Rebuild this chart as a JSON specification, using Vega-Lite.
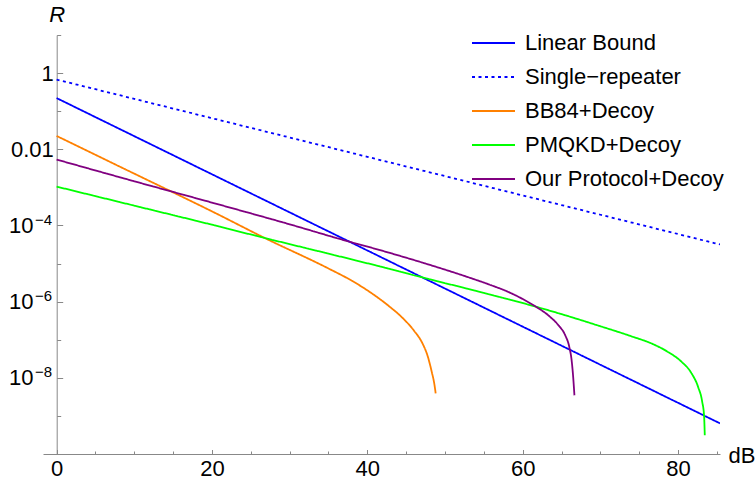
{
  "$schema": "https://vega.github.io/schema/vega-lite/v6.json",
  "width": 677,
  "height": 419,
  "autosize": "none",
  "padding": {"left": 43, "top": 35, "right": 35, "bottom": 25},
  "background": "white",
  "config": {
    "font": "Liberation Sans",
    "view": {"stroke": null},
    "axis": {"grid": false, "domainColor": "#888888", "tickColor": "#888888", "labelColor": "#000000", "labelFont": "Liberation Sans", "labelFontSize": 22, "titleFont": "Liberation Sans", "titleFontSize": 22, "titleFontWeight": "normal", "titleColor": "#000000"}
  },
  "datasets": {
    "curves": [
      {"series": "Linear Bound", "dB": 0, "R": 0.2208},
      {"series": "Linear Bound", "dB": 10, "R": 0.02208},
      {"series": "Linear Bound", "dB": 20, "R": 0.002208},
      {"series": "Linear Bound", "dB": 30, "R": 0.0002208},
      {"series": "Linear Bound", "dB": 40, "R": 2.208e-5},
      {"series": "Linear Bound", "dB": 50, "R": 2.208e-6},
      {"series": "Linear Bound", "dB": 60, "R": 2.208e-7},
      {"series": "Linear Bound", "dB": 70, "R": 2.208e-8},
      {"series": "Linear Bound", "dB": 80, "R": 2.208e-9},
      {"series": "Linear Bound", "dB": 85.4, "R": 6.37e-10},
      {"series": "Single−repeater", "dB": 0, "R": 0.676},
      {"series": "Single−repeater", "dB": 10, "R": 0.2104},
      {"series": "Single−repeater", "dB": 20, "R": 0.06546},
      {"series": "Single−repeater", "dB": 30, "R": 0.02037},
      {"series": "Single−repeater", "dB": 40, "R": 0.006339},
      {"series": "Single−repeater", "dB": 50, "R": 0.001972},
      {"series": "Single−repeater", "dB": 60, "R": 0.0006138},
      {"series": "Single−repeater", "dB": 70, "R": 0.000191},
      {"series": "Single−repeater", "dB": 80, "R": 5.943e-5},
      {"series": "Single−repeater", "dB": 85.4, "R": 3.162e-5},
      {"series": "BB84+Decoy", "dB": 0, "R": 0.02239},
      {"series": "BB84+Decoy", "dB": 10, "R": 0.002291},
      {"series": "BB84+Decoy", "dB": 20, "R": 0.0002344},
      {"series": "BB84+Decoy", "dB": 27, "R": 4.467e-5},
      {"series": "BB84+Decoy", "dB": 35, "R": 7.413e-6},
      {"series": "BB84+Decoy", "dB": 38, "R": 3.548e-6},
      {"series": "BB84+Decoy", "dB": 40.2, "R": 1.862e-6},
      {"series": "BB84+Decoy", "dB": 42.8, "R": 7.586e-7},
      {"series": "BB84+Decoy", "dB": 44.5, "R": 3.802e-7},
      {"series": "BB84+Decoy", "dB": 46, "R": 1.738e-7},
      {"series": "BB84+Decoy", "dB": 47.06, "R": 8.318e-8},
      {"series": "BB84+Decoy", "dB": 47.8, "R": 3.548e-8},
      {"series": "BB84+Decoy", "dB": 48.3, "R": 1.413e-8},
      {"series": "BB84+Decoy", "dB": 48.6, "R": 7.413e-9},
      {"series": "BB84+Decoy", "dB": 48.8, "R": 3.89e-9},
      {"series": "PMQKD+Decoy", "dB": 0, "R": 0.001047},
      {"series": "PMQKD+Decoy", "dB": 10, "R": 0.0003311},
      {"series": "PMQKD+Decoy", "dB": 20, "R": 0.0001047},
      {"series": "PMQKD+Decoy", "dB": 27.2, "R": 4.467e-5},
      {"series": "PMQKD+Decoy", "dB": 35, "R": 1.82e-5},
      {"series": "PMQKD+Decoy", "dB": 41.5, "R": 8.511e-6},
      {"series": "PMQKD+Decoy", "dB": 46.6, "R": 4.571e-6},
      {"series": "PMQKD+Decoy", "dB": 55, "R": 1.698e-6},
      {"series": "PMQKD+Decoy", "dB": 62, "R": 7.079e-7},
      {"series": "PMQKD+Decoy", "dB": 66, "R": 4.074e-7},
      {"series": "PMQKD+Decoy", "dB": 69.75, "R": 2.344e-7},
      {"series": "PMQKD+Decoy", "dB": 74, "R": 1.23e-7},
      {"series": "PMQKD+Decoy", "dB": 76.6, "R": 7.943e-8},
      {"series": "PMQKD+Decoy", "dB": 78.7, "R": 4.786e-8},
      {"series": "PMQKD+Decoy", "dB": 80.4, "R": 2.692e-8},
      {"series": "PMQKD+Decoy", "dB": 81.7, "R": 1.349e-8},
      {"series": "PMQKD+Decoy", "dB": 82.6, "R": 5.623e-9},
      {"series": "PMQKD+Decoy", "dB": 83.1, "R": 2.399e-9},
      {"series": "PMQKD+Decoy", "dB": 83.35, "R": 1.0e-9},
      {"series": "PMQKD+Decoy", "dB": 83.44, "R": 3.09e-10},
      {"series": "Our Protocol+Decoy", "dB": 0, "R": 0.00537},
      {"series": "Our Protocol+Decoy", "dB": 10, "R": 0.001445},
      {"series": "Our Protocol+Decoy", "dB": 20, "R": 0.0003981},
      {"series": "Our Protocol+Decoy", "dB": 30, "R": 0.0001072},
      {"series": "Our Protocol+Decoy", "dB": 37.4, "R": 3.89e-5},
      {"series": "Our Protocol+Decoy", "dB": 41.5, "R": 2.291e-5},
      {"series": "Our Protocol+Decoy", "dB": 47, "R": 1.072e-5},
      {"series": "Our Protocol+Decoy", "dB": 53, "R": 4.365e-6},
      {"series": "Our Protocol+Decoy", "dB": 55.63, "R": 2.844e-6},
      {"series": "Our Protocol+Decoy", "dB": 58.2, "R": 1.778e-6},
      {"series": "Our Protocol+Decoy", "dB": 59.9, "R": 1.202e-6},
      {"series": "Our Protocol+Decoy", "dB": 61.6, "R": 7.586e-7},
      {"series": "Our Protocol+Decoy", "dB": 63.3, "R": 4.365e-7},
      {"series": "Our Protocol+Decoy", "dB": 64.6, "R": 2.399e-7},
      {"series": "Our Protocol+Decoy", "dB": 65.47, "R": 1.318e-7},
      {"series": "Our Protocol+Decoy", "dB": 66.0, "R": 6.457e-8},
      {"series": "Our Protocol+Decoy", "dB": 66.3, "R": 2.884e-8},
      {"series": "Our Protocol+Decoy", "dB": 66.5, "R": 1.047e-8},
      {"series": "Our Protocol+Decoy", "dB": 66.66, "R": 3.467e-9}
    ]
  },
  "layer": [
    {
      "data": {"name": "curves"},
      "mark": {"type": "line", "strokeWidth": 1.8, "clip": true, "interpolate": "monotone"},
      "encoding": {
        "x": {
          "field": "dB", "type": "quantitative",
          "scale": {"domain": [-1.75, 85.4], "nice": false, "zero": false},
          "axis": {"orient": "bottom", "values": [0, 20, 40, 60, 80], "tickSize": -4.5, "labels": false, "title": "dB", "titleX": 685, "titleY": 1, "titleAlign": "left", "titleBaseline": "middle", "titleAngle": 0}
        },
        "y": {
          "field": "R", "type": "quantitative",
          "scale": {"type": "log", "domain": [1e-10, 10], "nice": false},
          "axis": {"orient": "left", "offset": -13.7, "values": [1, 0.01, 0.0001, 0.000001, 0.00000001], "tickSize": -6, "labels": false,
            "title": "R", "titleFontStyle": "italic", "titleAngle": 0, "titleX": 0, "titleY": -21, "titleAlign": "center", "titleBaseline": "middle"}
        },
        "color": {
          "field": "series", "type": "nominal",
          "scale": {"domain": ["Linear Bound", "Single−repeater", "BB84+Decoy", "PMQKD+Decoy", "Our Protocol+Decoy"], "range": ["#0000FF", "#0000FF", "#FF8000", "#00FF00", "#800080"]},
          "legend": {"title": null, "orient": "none", "legendX": 428, "legendY": -14.5, "padding": 0, "symbolType": "stroke", "symbolSize": 1849, "symbolStrokeWidth": 2, "labelFontSize": 22, "labelFont": "Liberation Sans", "labelColor": "#000000", "labelOffset": 9, "labelLimit": 400, "rowPadding": -11}
        },
        "strokeDash": {
          "field": "series", "type": "nominal",
          "scale": {"domain": ["Linear Bound", "Single−repeater", "BB84+Decoy", "PMQKD+Decoy", "Our Protocol+Decoy"], "range": [[1, 0], [3, 3.5], [1, 0], [1, 0], [1, 0]]},
          "legend": {"title": null, "orient": "none", "legendX": 428, "legendY": -14.5, "padding": 0, "symbolType": "stroke", "symbolSize": 1849, "symbolStrokeWidth": 2, "labelFontSize": 22, "labelFont": "Liberation Sans", "labelColor": "#000000", "labelOffset": 9, "labelLimit": 400, "rowPadding": -11}
        }
      }
    },
    {
      "data": {"name": "curves"},
      "mark": {"type": "point", "opacity": 0},
      "encoding": {
        "x": {
          "field": "dB", "type": "quantitative",
          "axis": {"orient": "bottom", "values": [5, 10, 15, 25, 30, 35, 45, 50, 55, 65, 70, 75, 85], "tickSize": -3, "labels": false, "domain": false, "title": null}
        },
        "y": {
          "field": "R", "type": "quantitative",
          "axis": {"orient": "left", "offset": -13.7, "values": [10, 0.1, 0.001, 0.00001, 0.0000001, 0.000000001], "tickSize": -4, "labels": false, "domain": false, "title": null}
        }
      }
    },
    {
      "data": {"name": "curves"},
      "mark": {"type": "point", "opacity": 0},
      "encoding": {
        "x": {
          "field": "dB", "type": "quantitative",
          "axis": {"orient": "bottom", "values": [0, 20, 40, 60, 80], "format": "d", "ticks": false, "domain": false, "labelPadding": 4, "labelBaseline": "top", "title": null}
        },
        "y": {
          "field": "R", "type": "quantitative",
          "axis": {"orient": "left", "offset": -13.7, "values": [1, 0.01], "ticks": false, "domain": false, "labelPadding": 3.4, "labelBaseline": "middle",
            "labelExpr": "datum.value > 0.5 ? '1' : '0.01'", "title": null}
        }
      }
    },
    {
      "data": {"name": "curves"},
      "mark": {"type": "point", "opacity": 0},
      "encoding": {
        "x": {"field": "dB", "type": "quantitative", "axis": null},
        "y": {
          "field": "R", "type": "quantitative",
          "axis": {"orient": "left", "offset": -13.7, "values": [0.0001, 0.000001, 0.00000001], "ticks": false, "domain": false, "labelPadding": 23.7, "labelBaseline": "middle",
            "labelExpr": "'10'", "title": null}
        }
      }
    },
    {
      "data": {"name": "curves"},
      "mark": {"type": "point", "opacity": 0},
      "encoding": {
        "x": {"field": "dB", "type": "quantitative", "axis": null},
        "y": {
          "field": "R", "type": "quantitative",
          "axis": {"orient": "left", "offset": -13.7, "values": [0.0001, 0.000001, 0.00000001], "ticks": false, "domain": false, "labelPadding": 5, "labelBaseline": "middle", "labelFontSize": 15, "labelOffset": -6,
            "labelExpr": "datum.value > 0.00005 ? '−4' : datum.value > 0.0000005 ? '−6' : '−8'", "title": null}
        }
      }
    }
  ],
  "resolve": {"axis": {"x": "independent", "y": "independent"}}
}
